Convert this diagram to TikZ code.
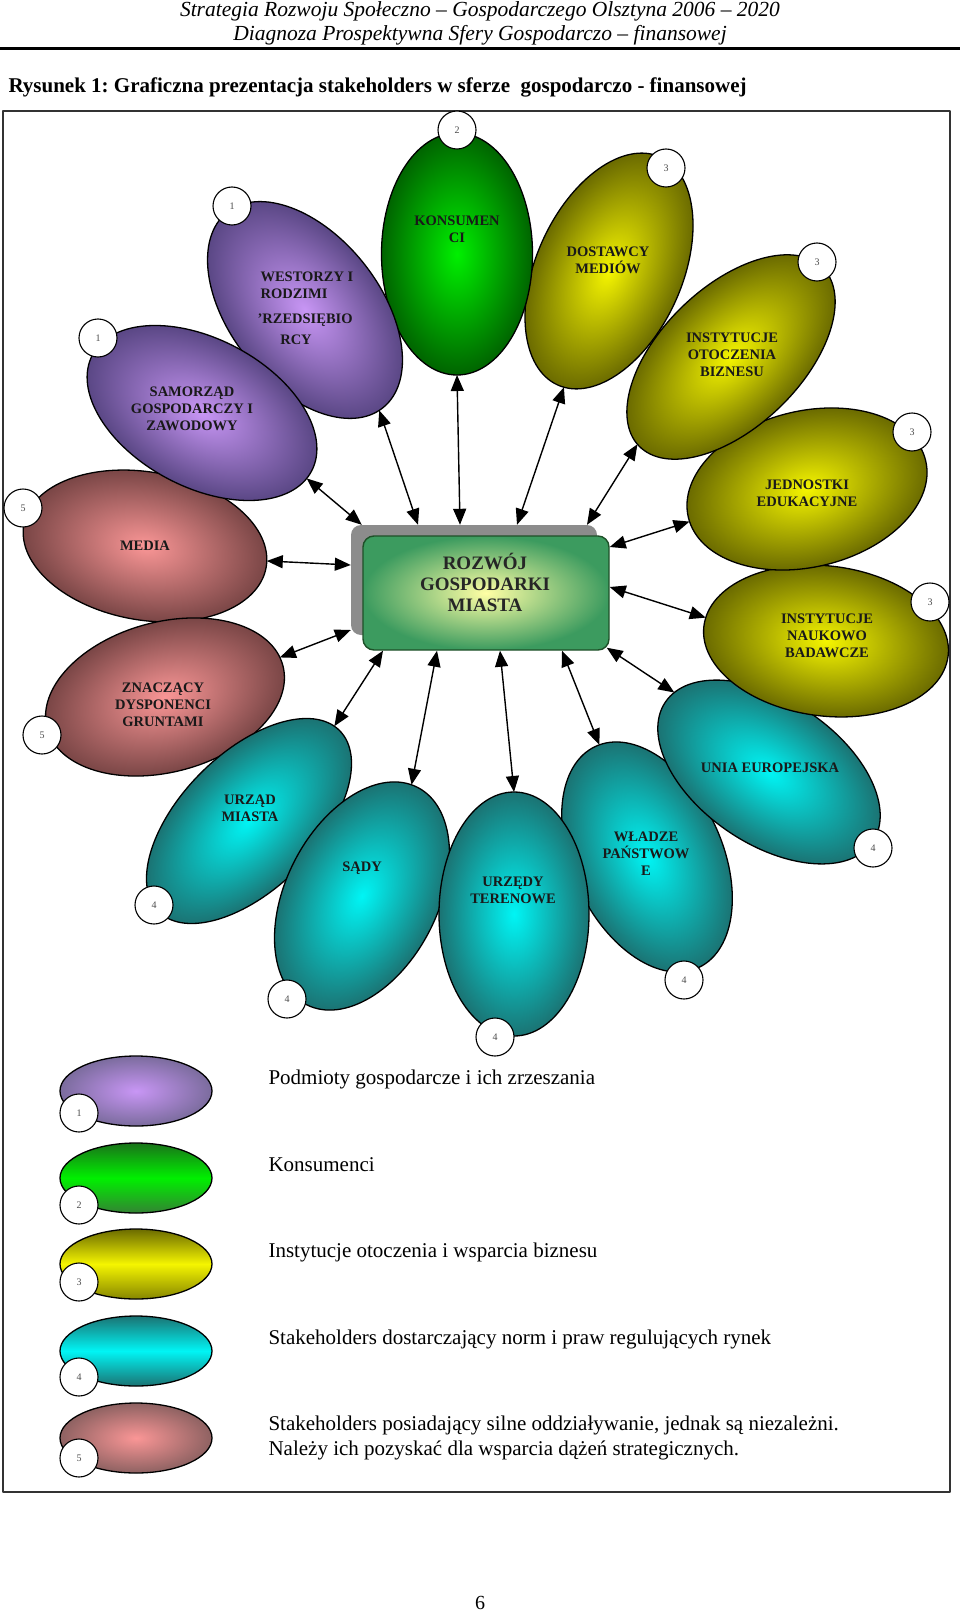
\documentclass[tikz,border=0pt]{standalone}
\usepackage{fontspec}
\setmainfont{Liberation Serif}
\usepackage{tikz}
\usetikzlibrary{arrows.meta}
\usetikzlibrary{shapes.geometric}
\frenchspacing

\definecolor{purpIn}{HTML}{C896F5}
\definecolor{purpOut}{HTML}{5A4785}
\definecolor{greenIn}{HTML}{00F000}
\definecolor{greenOut}{HTML}{006400}
\definecolor{yelIn}{HTML}{F5F500}
\definecolor{yelOut}{HTML}{6B6B00}
\definecolor{tealIn}{HTML}{00F5F5}
\definecolor{tealOut}{HTML}{1B7373}
\definecolor{brownIn}{HTML}{FA9696}
\definecolor{brownOut}{HTML}{7A4646}
\definecolor{boxIn}{HTML}{FFFFA5}
\definecolor{boxOut}{HTML}{3C9B5F}
\definecolor{boxLine}{HTML}{1E5028}
\definecolor{shadowGray}{HTML}{8C8C8C}

\newcommand{\bubble}[7]{%
  \shade[inner color=#6,outer color=#7,transform canvas={shift={(#2)},rotate=#3}] (0,0) ellipse [x radius=#4,y radius=#5];
  \node[bubble,minimum width=2*#4,minimum height=2*#5,rotate=#3] (#1) at (#2) {};}

\begin{document}
\begin{tikzpicture}[x=1pt,y=1pt,line cap=round,line join=round,>={Triangle[length=16pt,width=13pt]},
  bubble/.style={ellipse,draw,line width=1.3pt,inner sep=0pt,outer sep=0pt},
  lbl/.style={align=center,font=\bfseries\fontsize{14.5}{17}\selectfont,text=black!90},
  badge/.style={circle,draw,line width=1.1pt,fill=white,minimum size=38pt,inner sep=0pt,font=\fontsize{10}{10}\selectfont,text=black!70},
  legbub/.style={ellipse,draw,line width=1.3pt,inner sep=0pt,minimum width=152pt,minimum height=70pt},
  legtxt/.style={anchor=base west,font=\fontsize{21}{25}\selectfont},
  arr/.style={<->,line width=1.4pt}]
        \useasboundingbox (0,0) rectangle (960,-1613);
        \node[anchor=base,font=\itshape\fontsize{21.5}{26}\selectfont] (head1) at (480,-17) {Strategia Rozwoju Społeczno – Gospodarczego Olsztyna 2006 – 2020};
        \node[anchor=base,font=\itshape\fontsize{21.5}{26}\selectfont] (head2) at (480,-41) {Diagnoza Prospektywna Sfery Gospodarczo – finansowej};
        \draw[line width=3.5pt] (0,-48.5) -- (960,-48.5);
        \node[anchor=base west,font=\bfseries\fontsize{21}{25}\selectfont] (title) at (5,-93) {Rysunek 1: Graficzna prezentacja stakeholders w sferze\ \ gospodarczo - finansowej};
        \draw[line width=1.5pt,black!80] (3,-111) rectangle (950,-1492);

        \bubble{media}{145,-546}{-10}{123}{74}{brownIn}{brownOut}
        \bubble{znacz}{165,-697}{15}{122}{75}{brownIn}{brownOut}
        \bubble{urzad}{249,-821}{45}{128}{68}{tealIn}{tealOut}
        \bubble{sady}{362,-896}{63}{122}{76}{tealIn}{tealOut}
        \bubble{wladze}{647,-857}{-65}{122}{75}{tealIn}{tealOut}
        \bubble{urzedy}{514,-914}{0}{75}{122}{tealIn}{tealOut}
        \bubble{unia}{769,-772}{-34}{125}{72}{tealIn}{tealOut}
        \bubble{nauk}{826,-641}{-7}{123}{75}{yelIn}{yelOut}
        \bubble{jedn}{807,-489}{13.5}{122}{78}{yelIn}{yelOut}
        \bubble{otocz}{731,-357}{44}{128}{70}{yelIn}{yelOut}
        \bubble{dost}{609,-271}{65.8}{125}{73}{yelIn}{yelOut}
        \bubble{kons}{457,-254}{0}{75.5}{121}{greenIn}{greenOut}
        \bubble{inwest}{305,-310}{-51.5}{125}{75}{purpIn}{purpOut}
        \bubble{samorz}{202,-413}{-28}{124}{74}{purpIn}{purpOut}

        \node[lbl] (tmedia) at (145,-546) {MEDIA};
        \node[lbl] (tznacz) at (163,-705) {ZNACZĄCY\\DYSPONENCI\\GRUNTAMI};
        \node[lbl] (turzad) at (250,-808) {URZĄD\\MIASTA};
        \node[lbl] (tsady) at (362,-868) {SĄDY};
        \node[lbl] (twladze) at (646,-854) {WŁADZE\\PAŃSTWOW\\E};
        \node[lbl] (turzedy) at (513,-890) {URZĘDY\\TERENOWE};
        \node[lbl] (tunia) at (770,-768) {UNIA EUROPEJSKA};
        \node[lbl] (tnauk) at (827,-636) {INSTYTUCJE\\NAUKOWO\\BADAWCZE};
        \node[lbl] (tjedn) at (807,-493) {JEDNOSTKI\\EDUKACYJNE};
        \node[lbl] (totocz) at (732,-355) {INSTYTUCJE\\OTOCZENIA\\BIZNESU};
        \node[lbl] (tdost) at (608,-260) {DOSTAWCY\\MEDIÓW};
        \node[lbl] (tkons) at (457,-229) {KONSUMEN\\CI};
        \node[lbl,align=left,anchor=west] (tinwest) at (257,-285) {WESTORZY I\\ RODZIMI};
        \node[lbl,anchor=west] (tinwest2) at (254,-320) {’RZEDSIĘBIO};
        \node[lbl] (tinwest3) at (296,-340) {RCY};
        \node[lbl] (tsamorz) at (192,-409) {SAMORZĄD\\GOSPODARCZY I\\ZAWODOWY};

        \node[rectangle,rounded corners=10pt,fill=shadowGray,minimum width=246pt,minimum height=110pt] (shadow) at (474,-580) {};
        \node[rectangle,rounded corners=11pt,draw=boxLine,line width=1.4pt,inner color=boxIn,outer color=boxOut,minimum width=246pt,minimum height=114pt] (box) at (486,-593) {};
        \node[align=center,font=\bfseries\fontsize{19}{21}\selectfont,text=black!85] (tbox) at (485,-582) {ROZWÓJ\\GOSPODARKI\\MIASTA};

        \draw[arr] (inwest.-2) -- ([xshift=-56pt]shadow.north);
        \draw[arr] (kons.south) -- ([xshift=-14pt]shadow.north);
        \draw[arr] (dost.183) -- ([xshift=43pt]shadow.north);
        \draw[arr] (otocz.179) -- ([xshift=113pt]shadow.north);
        \draw[arr] (jedn.182) -- ([yshift=46pt]box.east);
        \draw[arr] (nauk.176) -- ([yshift=6pt]box.east);
        \draw[arr] (unia.174) -- ([shift={(-3pt,3pt)}]box.south east);
        \draw[arr] (wladze.178) -- ([xshift=76pt]box.south);
        \draw[arr] (urzedy.north) -- ([xshift=14pt]box.south);
        \draw[arr] (sady.3) -- ([xshift=-49pt]box.south);
        \draw[arr] (urzad.3) -- ([xshift=-103pt]box.south);
        \draw[arr] (znacz.4) -- ([yshift=-50pt]shadow.west);
        \draw[arr] (media.3.5) -- ([yshift=15pt]shadow.west);
        \draw[arr] (samorz.-4) -- ([xshift=11pt]shadow.north west);

        \node[badge] (n1a) at (232,-206) {1};
        \node[badge] (n1b) at (98,-338) {1};
        \node[badge] (n2) at (457,-130) {2};
        \node[badge] (n3a) at (666,-168) {3};
        \node[badge] (n3b) at (817,-262) {3};
        \node[badge] (n3c) at (912,-432) {3};
        \node[badge] (n3d) at (930,-602) {3};
        \node[badge] (n4a) at (873,-848) {4};
        \node[badge] (n4b) at (684,-980) {4};
        \node[badge] (n4c) at (495,-1037) {4};
        \node[badge] (n4d) at (287,-999) {4};
        \node[badge] (n4e) at (154,-905) {4};
        \node[badge] (n5a) at (42,-735) {5};
        \node[badge] (n5b) at (23,-508) {5};

        \node[legbub,inner color=purpIn,outer color=purpOut!80] (lg1) at (136,-1091) {};
        \node[legbub,top color=greenOut!90,bottom color=greenOut!80,middle color=greenIn] (lg2) at (136,-1178) {};
        \node[legbub,top color=yelOut,bottom color=yelOut!80!yelIn,middle color=yelIn] (lg3) at (136,-1264) {};
        \node[legbub,top color=tealOut,bottom color=tealOut,middle color=tealIn] (lg4) at (136,-1351) {};
        \node[legbub,inner color=brownIn,outer color=brownOut!85] (lg5) at (136,-1438) {};
        \node[badge] (lb1) at (79,-1113) {1};
        \node[badge] (lb2) at (79,-1205) {2};
        \node[badge] (lb3) at (79,-1282) {3};
        \node[badge] (lb4) at (79,-1377) {4};
        \node[badge] (lb5) at (79,-1458) {5};
        \node[legtxt] (lt1) at (265,-1084) {Podmioty gospodarcze i ich zrzeszania};
        \node[legtxt] (lt2) at (265,-1171) {Konsumenci};
        \node[legtxt] (lt3) at (265,-1257) {Instytucje otoczenia i wsparcia biznesu};
        \node[legtxt] (lt4) at (265,-1344) {Stakeholders dostarczający norm i praw regulujących rynek};
        \node[legtxt] (lt5) at (265,-1430) {Stakeholders posiadający silne oddziaływanie, jednak są niezależni.};
        \node[legtxt] (lt6) at (265,-1455) {Należy ich pozyskać dla wsparcia dążeń strategicznych.};

        \node[anchor=base,font=\fontsize{20}{24}\selectfont] (page) at (480,-1609) {6};
\end{tikzpicture}
\end{document}
